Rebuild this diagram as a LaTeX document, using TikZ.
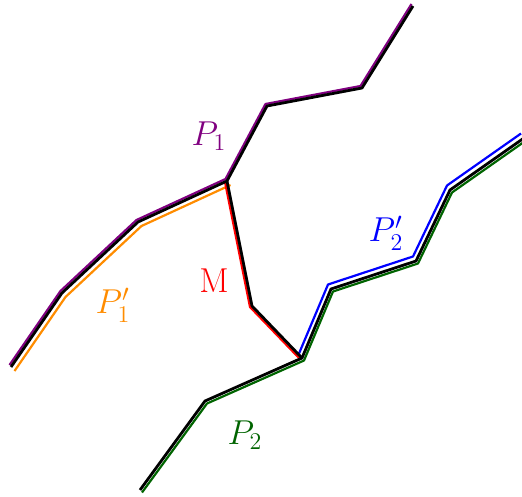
\documentclass[tikz,border=0pt]{standalone}
\usepackage{tikz}

\definecolor{pathpurple}{RGB}{128,0,128}
\definecolor{pathorange}{RGB}{255,140,0}
\definecolor{pathgreen}{RGB}{0,100,0}

\begin{document}
\begin{tikzpicture}[
  x=0.5pt,y=-0.5pt,
  spine/.style={line width=1.4pt,line join=round},
  trace/.style={line width=1.1pt,line join=round},
  tag/.style={inner sep=0pt,font=\LARGE}
]
  \useasboundingbox (0,0) rectangle (522,496);

  % vertices of the first path
  \coordinate (a0) at (11,367);
  \coordinate (a1) at (62,293);
  \coordinate (a2) at (138,222);
  \coordinate (a3) at (227,181);
  \coordinate (a4) at (267,106);
  \coordinate (a5) at (362,88);
  \coordinate (a6) at (413,6);
  % link between the two paths
  \coordinate (m1) at (252,306);
  % vertices of the second path
  \coordinate (b0) at (140,490);
  \coordinate (b1) at (205,401);
  \coordinate (b2) at (302,358);
  \coordinate (b3) at (331,289);
  \coordinate (b4) at (416,261);
  \coordinate (b5) at (450,190);
  \coordinate (b6) at (524,138);

  % coloured copies, shifted next to the black lines
  \draw[trace,pathpurple,transform canvas={shift={(-1.5,-2)}}]
    (a0) -- (a1) -- (a2) -- (a3) -- (a4) -- (a5) -- (a6);
  \draw[trace,pathorange,transform canvas={shift={(3.5,4)}}]
    (a0) -- (a1) -- (a2) -- (a3);
  \draw[trace,red,transform canvas={shift={(-2,1)}}]
    (a3) -- (m1) -- (b2);
  \draw[trace,pathgreen,transform canvas={shift={(2,2.5)}}]
    (b0) -- (b1) -- (b2) -- (b3) -- (b4) -- (b5) -- (b6);
  \draw[trace,blue,transform canvas={shift={(-3,-4.5)}}]
    (b2) -- (b3) -- (b4) -- (b5) -- (b6);

  % black lines
  \draw[spine] (a0) -- (a1) -- (a2) -- (a3) -- (a4) -- (a5) -- (a6);
  \draw[spine] (a3) -- (m1) -- (b2);
  \draw[spine] (b0) -- (b1) -- (b2) -- (b3) -- (b4) -- (b5) -- (b6);

  \node[tag,pathpurple] (p1) at (209,136) {$P_1$};
  \node[tag,pathorange] (p1b) at (113,305) {$P_1'$};
  \node[tag,red] (mlab) at (214,281) {M};
  \node[tag,blue] (p2b) at (386,233) {$P_2'$};
  \node[tag,pathgreen] (p2) at (245,435) {$P_2$};
\end{tikzpicture}
\end{document}
